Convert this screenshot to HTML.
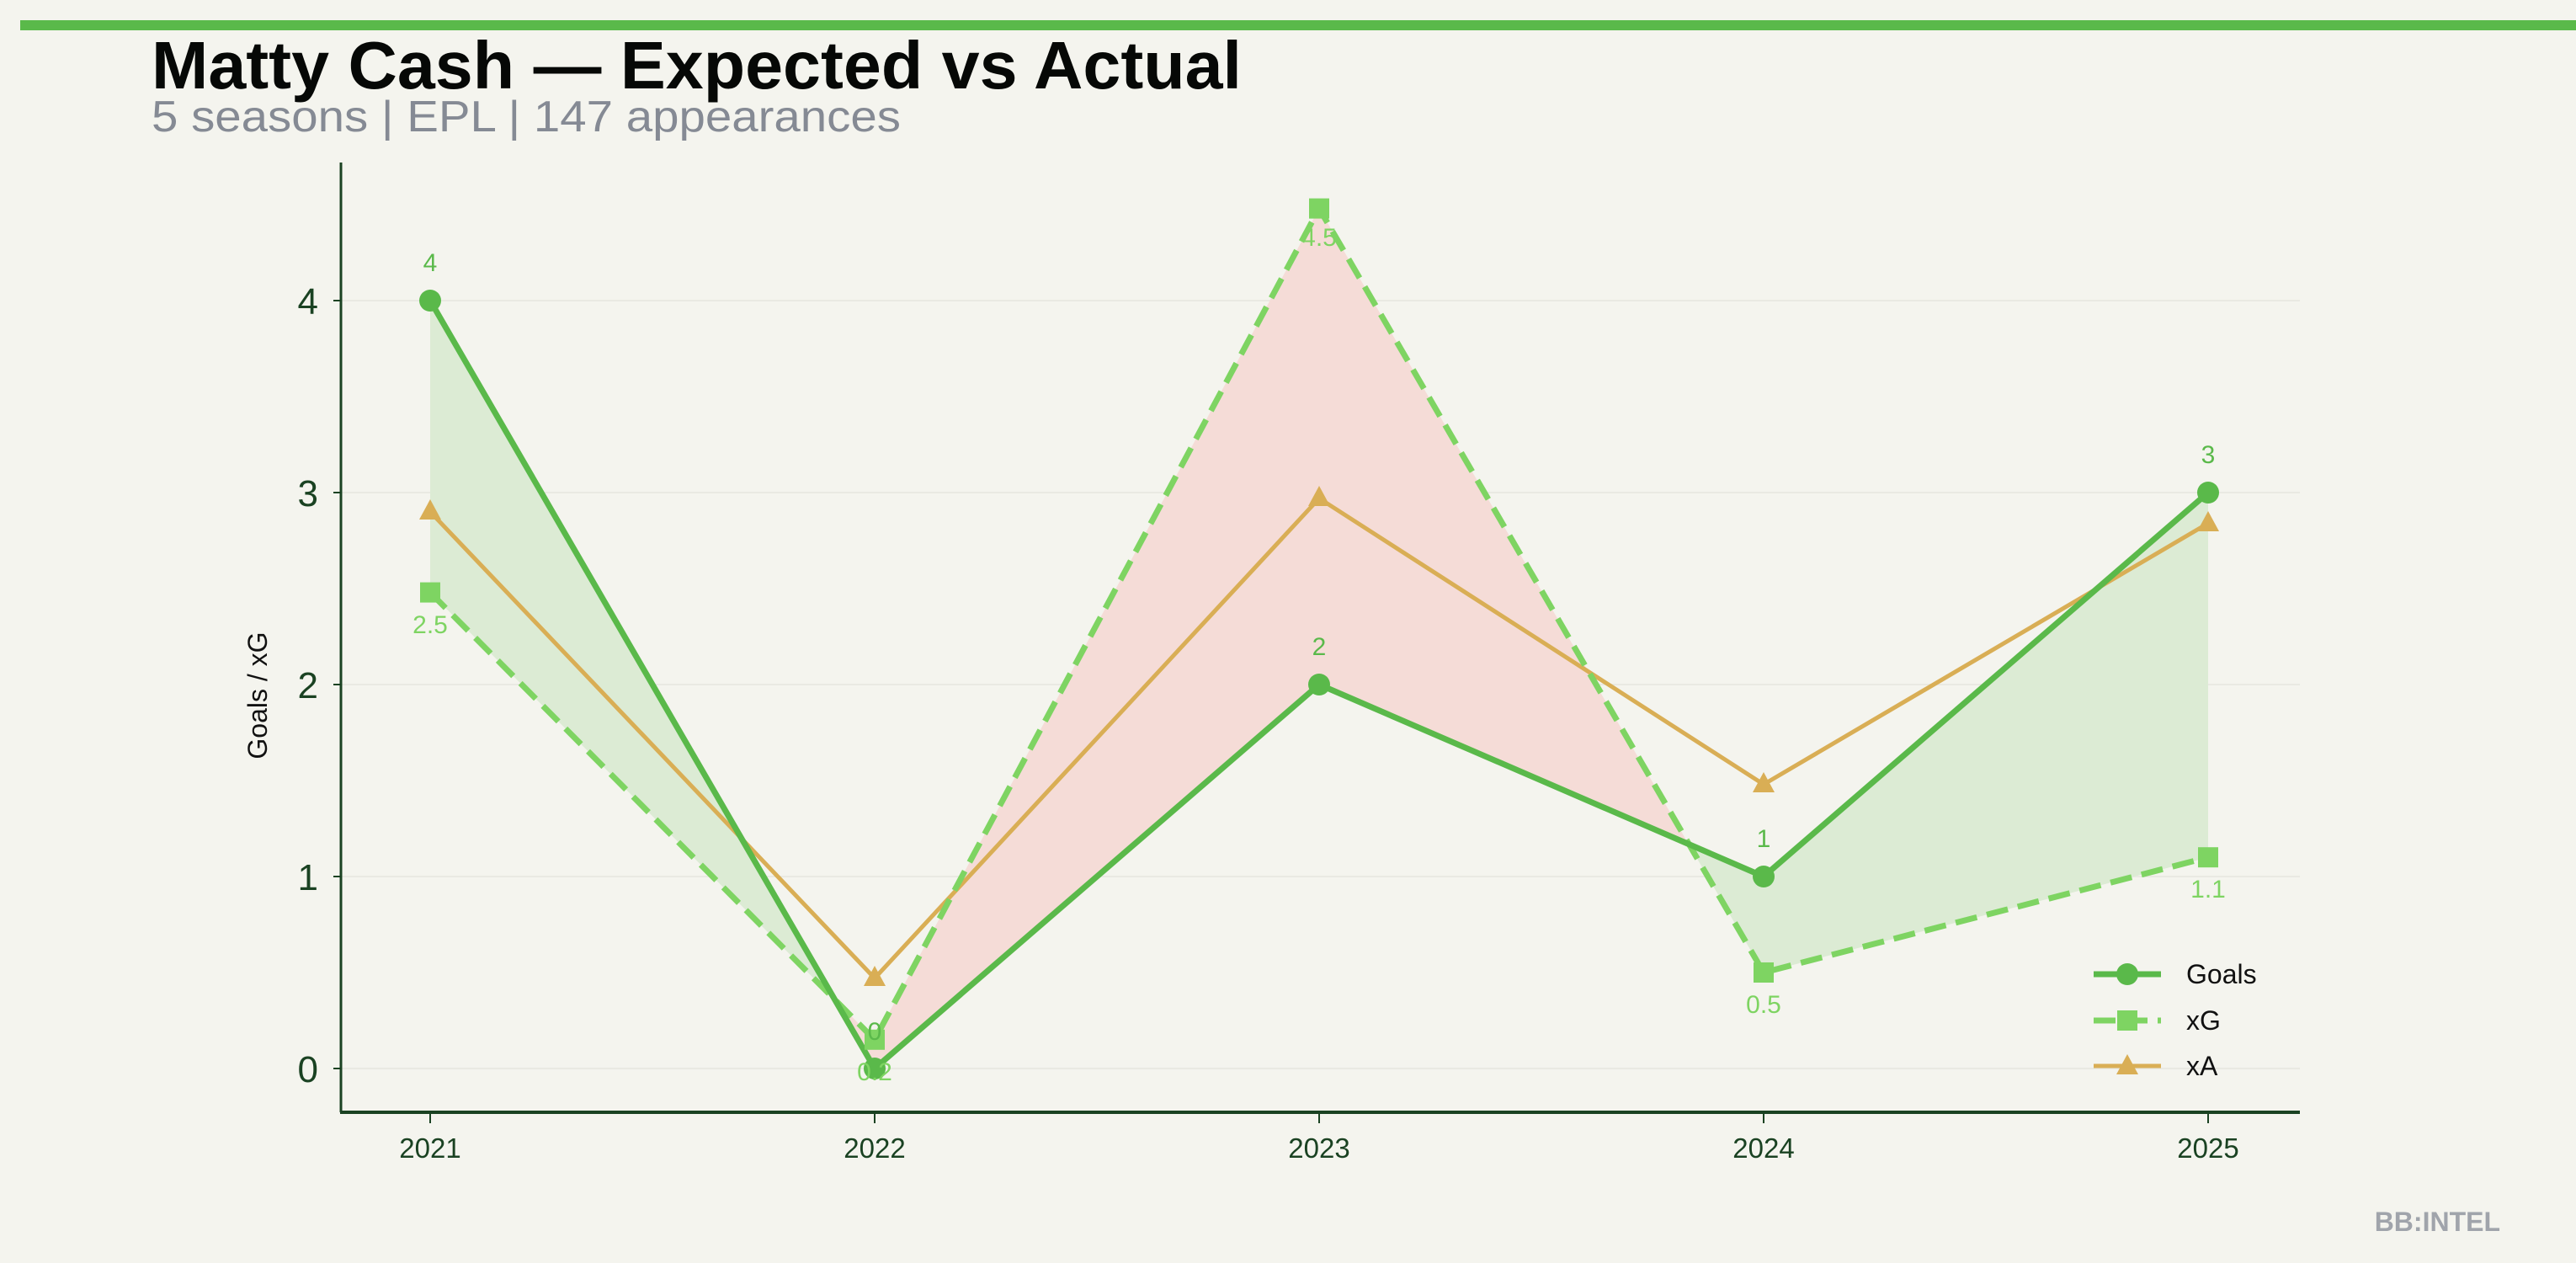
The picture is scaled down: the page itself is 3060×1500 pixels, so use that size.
<!DOCTYPE html>
<html><head><meta charset="utf-8"><style>
html,body{margin:0;padding:0;background:#f4f4ee;}
svg{display:block;font-family:"Liberation Sans",sans-serif;}
</style></head><body>
<svg width="3060" height="1500" viewBox="0 0 3060 1500">
<rect width="3060" height="1500" fill="#f4f4ee"/>
<rect x="24" y="24" width="3036" height="12" fill="#5ab94a"/>
<text x="180" y="105" font-size="80" font-weight="bold" fill="#060806" textLength="1295" lengthAdjust="spacingAndGlyphs">Matty Cash — Expected vs Actual</text>
<text x="180" y="156" font-size="52" fill="#858a94" textLength="890" lengthAdjust="spacingAndGlyphs">5 seasons | EPL | 147 appearances</text>
<g stroke="#e9e9e2" stroke-width="2">
<line x1="405" y1="1269" x2="2732" y2="1269"/><line x1="405" y1="1041" x2="2732" y2="1041"/>
<line x1="405" y1="813" x2="2732" y2="813"/><line x1="405" y1="585" x2="2732" y2="585"/><line x1="405" y1="357" x2="2732" y2="357"/>
</g>
<polygon points="511,357 991.5,1187 511,703.6" fill="#dcebd4"/>
<polygon points="991.5,1187 1039,1234.8 1567,247.6 2006,1002.7 1567,813 1039,1269" fill="#f5dcd7"/>
<polygon points="2006,1002.7 2095,1041 2623,585 2623,1018.2 2095,1155" fill="#dcebd4"/>
<polyline points="511,607.8 1039,1161.8 1567,591.8 2095,931.6 2623,621.5" fill="none" stroke="#d9ae55" stroke-width="5"/>
<polyline points="511,703.6 1039,1234.8 1567,247.6 2095,1155 2623,1018.2" fill="none" stroke="#7ed462" stroke-width="7" stroke-dasharray="26,12"/>
<polyline points="511,357 1039,1269 1567,813 2095,1041 2623,585" fill="none" stroke="#5ab94a" stroke-width="7"/>
<g fill="#d9ae55"><polygon points="511,593 498,617 524,617"/><polygon points="1039,1147 1026,1171 1052,1171"/><polygon points="1567,577 1554,601 1580,601"/><polygon points="2095,917 2082,941 2108,941"/><polygon points="2623,607 2610,631 2636,631"/></g>
<g fill="#7ed462"><rect x="499" y="691.6" width="24" height="24"/><rect x="1027" y="1222.8" width="24" height="24"/><rect x="1555" y="235.6" width="24" height="24"/><rect x="2083" y="1143" width="24" height="24"/><rect x="2611" y="1006.2" width="24" height="24"/></g>
<g fill="#5ab94a"><circle cx="511" cy="357" r="13"/><circle cx="1039" cy="1269" r="13"/><circle cx="1567" cy="813" r="13"/><circle cx="2095" cy="1041" r="13"/><circle cx="2623" cy="585" r="13"/></g>
<g font-size="30" text-anchor="middle" fill="#5ab94a"><text x="511" y="322">4</text><text x="1039" y="1235">0</text><text x="1567" y="778">2</text><text x="2095" y="1006">1</text><text x="2623" y="550">3</text></g>
<g font-size="30" text-anchor="middle" fill="#7ed462"><text x="511" y="752">2.5</text><text x="1039" y="1283">0.2</text><text x="1567" y="292">4.5</text><text x="2095" y="1203">0.5</text><text x="2623" y="1066">1.1</text></g>
<line x1="405" y1="193" x2="405" y2="1321" stroke="#1a4222" stroke-width="3"/>
<line x1="404" y1="1321" x2="2732" y2="1321" stroke="#1a4222" stroke-width="4"/>
<g stroke="#1a4222" stroke-width="2"><line x1="396" y1="1269" x2="405" y2="1269"/><line x1="396" y1="1041" x2="405" y2="1041"/><line x1="396" y1="813" x2="405" y2="813"/><line x1="396" y1="585" x2="405" y2="585"/><line x1="396" y1="357" x2="405" y2="357"/>
<line x1="511" y1="1321" x2="511" y2="1334"/><line x1="1039" y1="1321" x2="1039" y2="1334"/><line x1="1567" y1="1321" x2="1567" y2="1334"/><line x1="2095" y1="1321" x2="2095" y2="1334"/><line x1="2623" y1="1321" x2="2623" y2="1334"/></g>
<g font-size="44" fill="#1a4222" text-anchor="end"><text x="378" y="1285">0</text><text x="378" y="1057">1</text><text x="378" y="829">2</text><text x="378" y="601">3</text><text x="378" y="373">4</text></g>
<g font-size="33" fill="#1a4222" text-anchor="middle"><text x="511" y="1375">2021</text><text x="1039" y="1375">2022</text><text x="1567" y="1375">2023</text><text x="2095" y="1375">2024</text><text x="2623" y="1375">2025</text></g>
<text transform="translate(317,826) rotate(-90)" font-size="32" text-anchor="middle" fill="#111">Goals / xG</text>
<line x1="2487" y1="1157" x2="2567" y2="1157" stroke="#5ab94a" stroke-width="7"/><circle cx="2527" cy="1157" r="13" fill="#5ab94a"/>
<line x1="2487" y1="1212" x2="2567" y2="1212" stroke="#7ed462" stroke-width="7" stroke-dasharray="26,12"/><rect x="2515" y="1200" width="24" height="24" fill="#7ed462"/>
<line x1="2487" y1="1266" x2="2567" y2="1266" stroke="#d9ae55" stroke-width="5"/><polygon points="2527,1252 2514,1276 2540,1276" fill="#d9ae55"/>
<g font-size="32" fill="#111"><text x="2597" y="1168">Goals</text><text x="2597" y="1223">xG</text><text x="2597" y="1277">xA</text></g>
<text x="2970" y="1462" font-size="32" font-weight="bold" fill="#a0a4ab" text-anchor="end">BB:INTEL</text>
</svg>
</body></html>
